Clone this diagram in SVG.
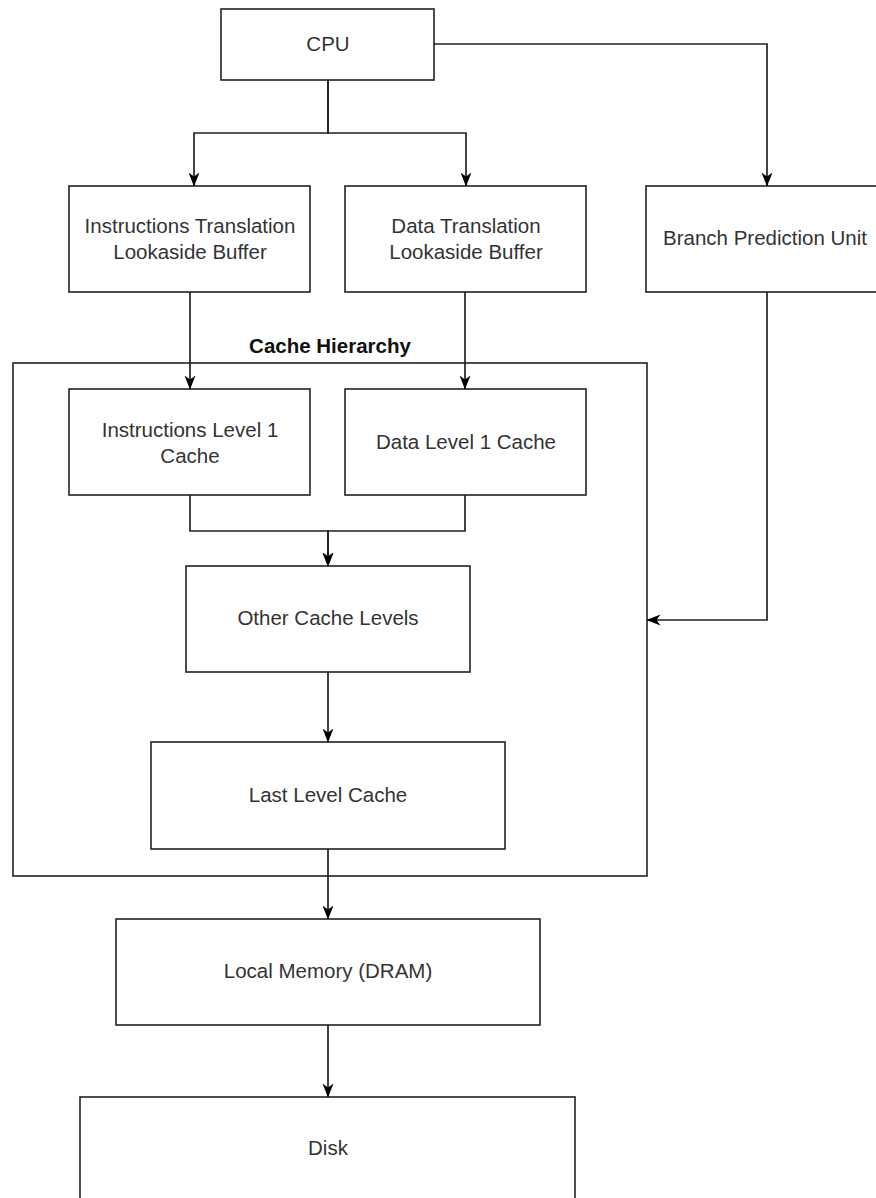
<svg xmlns="http://www.w3.org/2000/svg" width="876" height="1198" viewBox="0 0 876 1198">
<style>
.box{fill:#fff;stroke:#222;stroke-width:1.6}
.t{font-family:"Liberation Sans",Arial,sans-serif;font-size:20.5px;fill:#333;text-anchor:middle}
.tb{font-family:"Liberation Sans",Arial,sans-serif;font-size:20.5px;font-weight:bold;fill:#111;text-anchor:middle}
.c{fill:none;stroke:#222;stroke-width:1.7}
</style>
<defs>
<marker id="arr" markerUnits="userSpaceOnUse" viewBox="0 0 14 12" refX="13.5" refY="6" markerWidth="14" markerHeight="12" orient="auto">
<path d="M0,0.5 L14,6 L0,11.5 L4,6 Z" fill="#000"/>
</marker>
</defs>
<rect width="876" height="1198" fill="#fff"/>
<g id="cache-hierarchy">
<rect class="box" x="13" y="363" width="634" height="513"/>
<text class="tb" x="330" y="353">Cache Hierarchy</text>
</g>
<g id="cpu">
<rect class="box" x="221" y="9" width="213" height="71"/>
<text class="t" x="328" y="51">CPU</text>
</g>
<g id="itlb">
<rect class="box" x="69" y="186" width="241" height="106"/>
<text class="t" x="190" y="233">Instructions Translation</text>
<text class="t" x="190" y="259">Lookaside Buffer</text>
</g>
<g id="dtlb">
<rect class="box" x="345" y="186" width="241" height="106"/>
<text class="t" x="466" y="233">Data Translation</text>
<text class="t" x="466" y="259">Lookaside Buffer</text>
</g>
<g id="bpu">
<rect class="box" x="646" y="186" width="240" height="106"/>
<text class="t" x="765" y="245">Branch Prediction Unit</text>
</g>
<g id="il1">
<rect class="box" x="69" y="389" width="241" height="106"/>
<text class="t" x="190" y="437">Instructions Level 1</text>
<text class="t" x="190" y="463">Cache</text>
</g>
<g id="dl1">
<rect class="box" x="345" y="389" width="241" height="106"/>
<text class="t" x="466" y="449">Data Level 1 Cache</text>
</g>
<g id="other">
<rect class="box" x="186" y="566" width="284" height="106"/>
<text class="t" x="328" y="625">Other Cache Levels</text>
</g>
<g id="llc">
<rect class="box" x="151" y="742" width="354" height="107"/>
<text class="t" x="328" y="802">Last Level Cache</text>
</g>
<g id="dram">
<rect class="box" x="116" y="919" width="424" height="106"/>
<text class="t" x="328" y="978">Local Memory (DRAM)</text>
</g>
<g id="disk">
<rect class="box" x="80" y="1097" width="495" height="120"/>
<text class="t" x="328" y="1155">Disk</text>
</g>
<g id="connectors">
<path class="c" d="M328,80 V133 H194 V186" marker-end="url(#arr)"/>
<path class="c" d="M328,80 V133 H466 V186" marker-end="url(#arr)"/>
<path class="c" d="M434,44 H767 V186" marker-end="url(#arr)"/>
<path class="c" d="M190,292 V389" marker-end="url(#arr)"/>
<path class="c" d="M465,292 V389" marker-end="url(#arr)"/>
<path class="c" d="M190,495 V531 H328 V566" marker-end="url(#arr)"/>
<path class="c" d="M465,495 V531 H328 V566" marker-end="url(#arr)"/>
<path class="c" d="M328,672 V742" marker-end="url(#arr)"/>
<path class="c" d="M767,292 V620 H647" marker-end="url(#arr)"/>
<path class="c" d="M328,849 V919" marker-end="url(#arr)"/>
<path class="c" d="M328,1025 V1097" marker-end="url(#arr)"/>
</g>
</svg>
